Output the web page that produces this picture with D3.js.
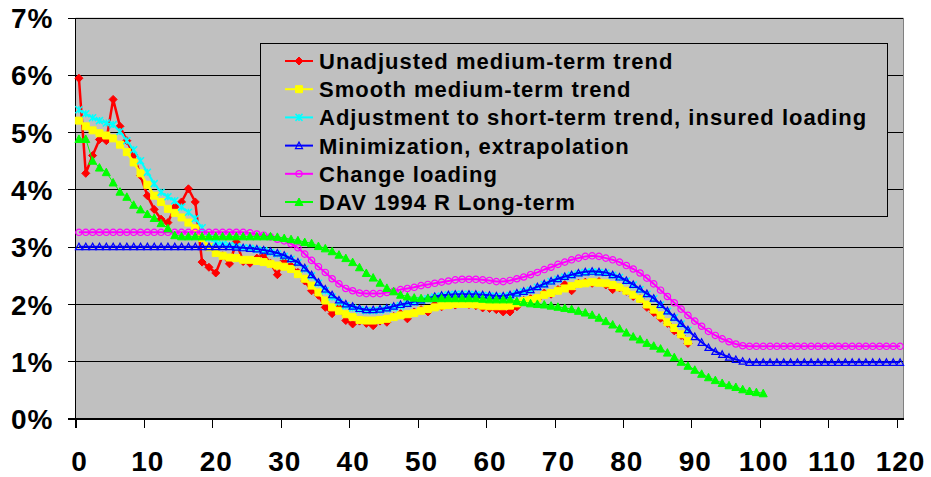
<!DOCTYPE html>
<html><head><meta charset="utf-8">
<script src="https://cdn.jsdelivr.net/npm/d3@7/dist/d3.min.js"></script>
<style>
html,body{margin:0;padding:0;background:#fff;}
svg{display:block;font-family:"Liberation Sans",Arial,sans-serif;font-weight:bold;}
</style></head>
<body><svg id="c" width="931" height="477"></svg>
<script>
// ---------------- data ----------------
const xTicks = [0,10,20,30,40,50,60,70,80,90,100,110,120];
const yTicks = [0,1,2,3,4,5,6,7];
const seriesNames = [
  "Unadjusted medium-term trend",
  "Smooth medium-term trend",
  "Adjustment to short-term trend, insured loading",
  "Minimization, extrapolation",
  "Change loading",
  "DAV 1994 R Long-term"
];
const unadjusted = [
5.94,4.28,4.59,4.87,4.85,5.57,5.10,4.85,4.60,4.24,
3.89,3.65,3.48,3.42,3.69,3.78,4.01,3.78,2.73,2.64,
2.54,2.84,2.70,3.08,2.74,2.71,2.80,2.86,2.71,2.51,
2.76,2.66,2.55,2.40,2.23,2.15,1.94,1.83,1.95,1.71,
1.65,1.70,1.66,1.62,1.70,1.68,1.78,1.83,1.74,1.86,
1.90,1.86,1.99,1.95,2.00,1.98,2.02,1.99,1.97,1.93,
1.92,1.90,1.86,1.86,1.95,2.06,2.09,2.08,2.19,2.17,
2.25,2.34,2.23,2.36,2.38,2.36,2.39,2.33,2.25,2.28,
2.22,2.13,2.09,1.94,1.85,1.75,1.66,1.53,1.45,1.31];
const smooth = [
5.20,5.10,5.03,4.98,4.94,4.89,4.78,4.65,4.47,4.28,
4.08,3.89,3.78,3.66,3.59,3.51,3.42,3.32,3.15,2.99,
2.89,2.84,2.81,2.80,2.77,2.77,2.75,2.73,2.70,2.67,
2.65,2.61,2.52,2.44,2.32,2.20,2.06,1.94,1.88,1.82,
1.77,1.72,1.71,1.71,1.72,1.74,1.77,1.80,1.82,1.84,
1.88,1.91,1.94,1.97,1.98,2.00,2.00,2.00,1.99,1.97,
1.96,1.96,1.96,1.97,2.01,2.05,2.07,2.10,2.16,2.19,
2.23,2.27,2.31,2.35,2.36,2.38,2.37,2.36,2.33,2.29,
2.23,2.16,2.09,1.99,1.90,1.80,1.68,1.58,1.47,1.35];
const adjustment = [
5.39,5.32,5.25,5.20,5.16,5.13,5.01,4.85,4.69,4.50,
4.30,4.10,3.95,3.87,3.80,3.69,3.60,3.49,3.33,3.15,
3.08,3.04,3.02,3.00,2.98,2.97,2.95,2.93,2.90,2.87,
2.83,2.78,2.72,2.61,2.49,2.36,2.23,2.12,2.03,1.97,
1.93,1.90,1.88,1.88,1.89,1.91,1.94,1.97,2.00,2.03,
2.06,2.09,2.12,2.14,2.16,2.17,2.17,2.17,2.16,2.15,
2.14,2.13,2.13,2.15,2.18,2.21,2.24,2.29,2.34,2.39,
2.43,2.47,2.50,2.53,2.55,2.56,2.55,2.54,2.50,2.46,
2.40,2.33,2.25,2.17,2.09,1.98,1.87,1.76,1.65,1.54];
const minimization = [
3.00,3.00,3.00,3.00,3.00,3.00,3.00,3.00,3.00,3.00,
3.00,3.00,3.00,3.00,3.00,3.00,3.00,3.00,3.00,3.00,
3.00,3.00,3.00,2.99,2.98,2.97,2.96,2.94,2.92,2.89,
2.85,2.79,2.73,2.63,2.51,2.38,2.26,2.16,2.07,2.00,
1.96,1.92,1.90,1.90,1.91,1.93,1.96,1.99,2.01,2.04,
2.07,2.10,2.13,2.15,2.16,2.17,2.17,2.17,2.17,2.16,
2.15,2.14,2.14,2.16,2.19,2.22,2.25,2.30,2.35,2.40,
2.44,2.48,2.51,2.54,2.56,2.57,2.56,2.55,2.51,2.47,
2.41,2.34,2.26,2.18,2.10,1.99,1.88,1.77,1.66,1.55,
1.43,1.33,1.24,1.17,1.12,1.07,1.03,1.00,0.98,0.98,
0.98,0.98,0.98,0.98,0.98,0.98,0.98,0.98,0.98,0.98,
0.98,0.98,0.98,0.98,0.98,0.98,0.98,0.98,0.98,0.98,
0.98];
const changeLoading = [
3.25,3.25,3.25,3.25,3.25,3.25,3.25,3.25,3.25,3.25,
3.25,3.25,3.25,3.25,3.25,3.25,3.25,3.25,3.25,3.25,
3.25,3.25,3.25,3.25,3.25,3.24,3.22,3.20,3.17,3.13,
3.10,3.05,2.98,2.87,2.76,2.65,2.55,2.44,2.35,2.27,
2.23,2.19,2.18,2.18,2.18,2.20,2.22,2.25,2.27,2.29,
2.32,2.34,2.36,2.38,2.40,2.42,2.43,2.43,2.43,2.42,
2.41,2.39,2.39,2.41,2.44,2.47,2.51,2.55,2.60,2.64,
2.69,2.73,2.77,2.80,2.83,2.84,2.83,2.80,2.77,2.73,
2.67,2.61,2.54,2.45,2.35,2.24,2.13,2.02,1.91,1.80,
1.70,1.61,1.52,1.45,1.39,1.34,1.30,1.27,1.26,1.26,
1.26,1.26,1.26,1.26,1.26,1.26,1.26,1.26,1.26,1.26,
1.26,1.26,1.26,1.26,1.26,1.26,1.26,1.26,1.26,1.26,
1.26];
const dav = [
4.88,4.88,4.50,4.38,4.30,4.12,3.96,3.87,3.73,3.65,
3.57,3.50,3.41,3.32,3.20,3.18,3.18,3.18,3.18,3.18,
3.18,3.18,3.18,3.18,3.18,3.18,3.18,3.18,3.18,3.17,
3.15,3.13,3.11,3.08,3.06,3.01,2.97,2.92,2.86,2.80,
2.73,2.64,2.54,2.46,2.37,2.28,2.22,2.16,2.13,2.11,
2.10,2.10,2.10,2.10,2.10,2.10,2.10,2.10,2.10,2.09,
2.08,2.08,2.08,2.08,2.05,2.03,2.01,2.00,1.99,1.97,
1.95,1.93,1.91,1.88,1.85,1.81,1.76,1.70,1.64,1.57,
1.50,1.43,1.38,1.32,1.27,1.22,1.15,1.07,0.99,0.92,
0.85,0.78,0.72,0.67,0.62,0.58,0.55,0.51,0.48,0.46,
0.44];

// ---------------- chart ----------------
const svg = d3.select("#c");
const L = 75.5, R = 903.5, T = 17.5, B = 418.5;
const x = d3.scaleLinear().domain([0,121]).range([L,R]);
const y = d3.scaleLinear().domain([0,7]).range([B,T]);
const half = x(0.5) - x(0);

svg.append("rect").attr("x",L).attr("y",T).attr("width",R-L).attr("height",B-T).attr("fill","#c0c0c0");

// gridlines
svg.append("g").attr("transform",`translate(${L},0)`)
  .call(d3.axisLeft(y).tickValues(yTicks).tickSize(-(R-L)).tickFormat(""))
  .call(g=>g.select(".domain").remove())
  .call(g=>g.selectAll("line").attr("stroke","#000").attr("shape-rendering","crispEdges"));
// right border
svg.append("line").attr("x1",R).attr("x2",R).attr("y1",T).attr("y2",B).attr("stroke","#808080").attr("shape-rendering","crispEdges");

// y axis
const ya = svg.append("g").attr("transform",`translate(${L},0)`)
  .call(d3.axisLeft(y).tickValues(yTicks).tickSize(8).tickSizeOuter(0).tickPadding(14).tickFormat(d=>d+"%"));
ya.selectAll("line,path").attr("stroke","#000").attr("shape-rendering","crispEdges");
ya.select(".domain").attr("d",`M0,${T}V${B+9}`);
ya.selectAll("text").attr("font-size","28px").attr("font-weight","bold").attr("fill","#000")
  .attr("font-family","Liberation Sans, Arial, sans-serif").style("letter-spacing","1px").attr("x",-22).attr("dy","0.36em");

// x axis
const xa = svg.append("g").attr("transform",`translate(0,${B})`)
  .call(d3.axisBottom(x).tickValues(xTicks).tickSize(9).tickSizeOuter(0).tickFormat(d=>d));
xa.selectAll("line,path").attr("stroke","#000").attr("shape-rendering","crispEdges");
xa.select(".domain").attr("d",`M${L-8},0H${R}`);
xa.selectAll("text").attr("font-size","28px").attr("font-weight","bold").attr("fill","#000")
  .attr("font-family","Liberation Sans, Arial, sans-serif").style("letter-spacing","1px")
  .attr("x",half).attr("y",52).attr("dy",0);

// markers
const r = 3.5;
const markers = {
  diamond: `M0,${-r-0.5}L${r+0.5},0L0,${r+0.5}L${-r-0.5},0Z`,
  square: `M${-r},${-r}h${2*r}v${2*r}h${-2*r}Z`,
  star: `M${-r},${-r}L${r},${r}M${-r},${r}L${r},${-r}M0,${-r}L0,${r}`,
  tri: `M0,${-r}L${r},${r*0.85}L${-r},${r*0.85}Z`,
  circle: d3.symbol(d3.symbolCircle, 32)(),
  triF: `M0,${-r-0.5}L${r+0.5},${r}L${-r-0.5},${r}Z`
};
const series = [
  {name:seriesNames[0], data:unadjusted, color:"#ff0000", w:2.5, m:"diamond", fill:"#ff0000", mw:1},
  {name:seriesNames[1], data:smooth, color:"#ffff00", w:2.5, m:"square", fill:"#ffff00", mw:1},
  {name:seriesNames[2], data:adjustment, color:"#00ffff", w:2, m:"star", fill:"none", mw:1.5},
  {name:seriesNames[3], data:minimization, color:"#0000ff", w:2, m:"tri", fill:"none", mw:1.2},
  {name:seriesNames[4], data:changeLoading, color:"#ff00ff", w:2, m:"circle", fill:"none", mw:1.2},
  {name:seriesNames[5], data:dav, color:"#00ff00", w:1, m:"triF", fill:"#00ff00", mw:1}
];
const line = d3.line().x((d,i)=>x(i+0.5)).y(d=>y(d));
series.forEach(s=>{
  const g = svg.append("g");
  g.append("path").attr("d",line(s.data)).attr("fill","none").attr("stroke",s.color).attr("stroke-width",s.w).attr("stroke-linejoin","round");
  g.selectAll("path.m").data(s.data).join("path").attr("class","m")
    .attr("transform",(d,i)=>`translate(${x(i+0.5)},${y(d)})`)
    .attr("d",markers[s.m]).attr("fill",s.fill).attr("stroke",s.color).attr("stroke-width",s.mw);
});

// legend
const lg = svg.append("g");
lg.append("rect").attr("x",260.5).attr("y",43.5).attr("width",627).attr("height",173)
  .attr("fill","#c0c0c0").attr("stroke","#000").attr("stroke-width",1);
series.forEach((s,k)=>{
  const cy = 61 + k*28.2;
  lg.append("line").attr("x1",285).attr("x2",313).attr("y1",cy).attr("y2",cy).attr("stroke",s.color).attr("stroke-width",2);
  lg.append("path").attr("transform",`translate(299,${cy})`).attr("d",markers[s.m])
    .attr("fill",s.fill).attr("stroke",s.color).attr("stroke-width",s.mw);
  lg.append("text").attr("x",319).attr("y",cy+8).text(s.name)
    .attr("font-size","22px").attr("fill","#000").style("letter-spacing","1px");
});
</script></body></html>
